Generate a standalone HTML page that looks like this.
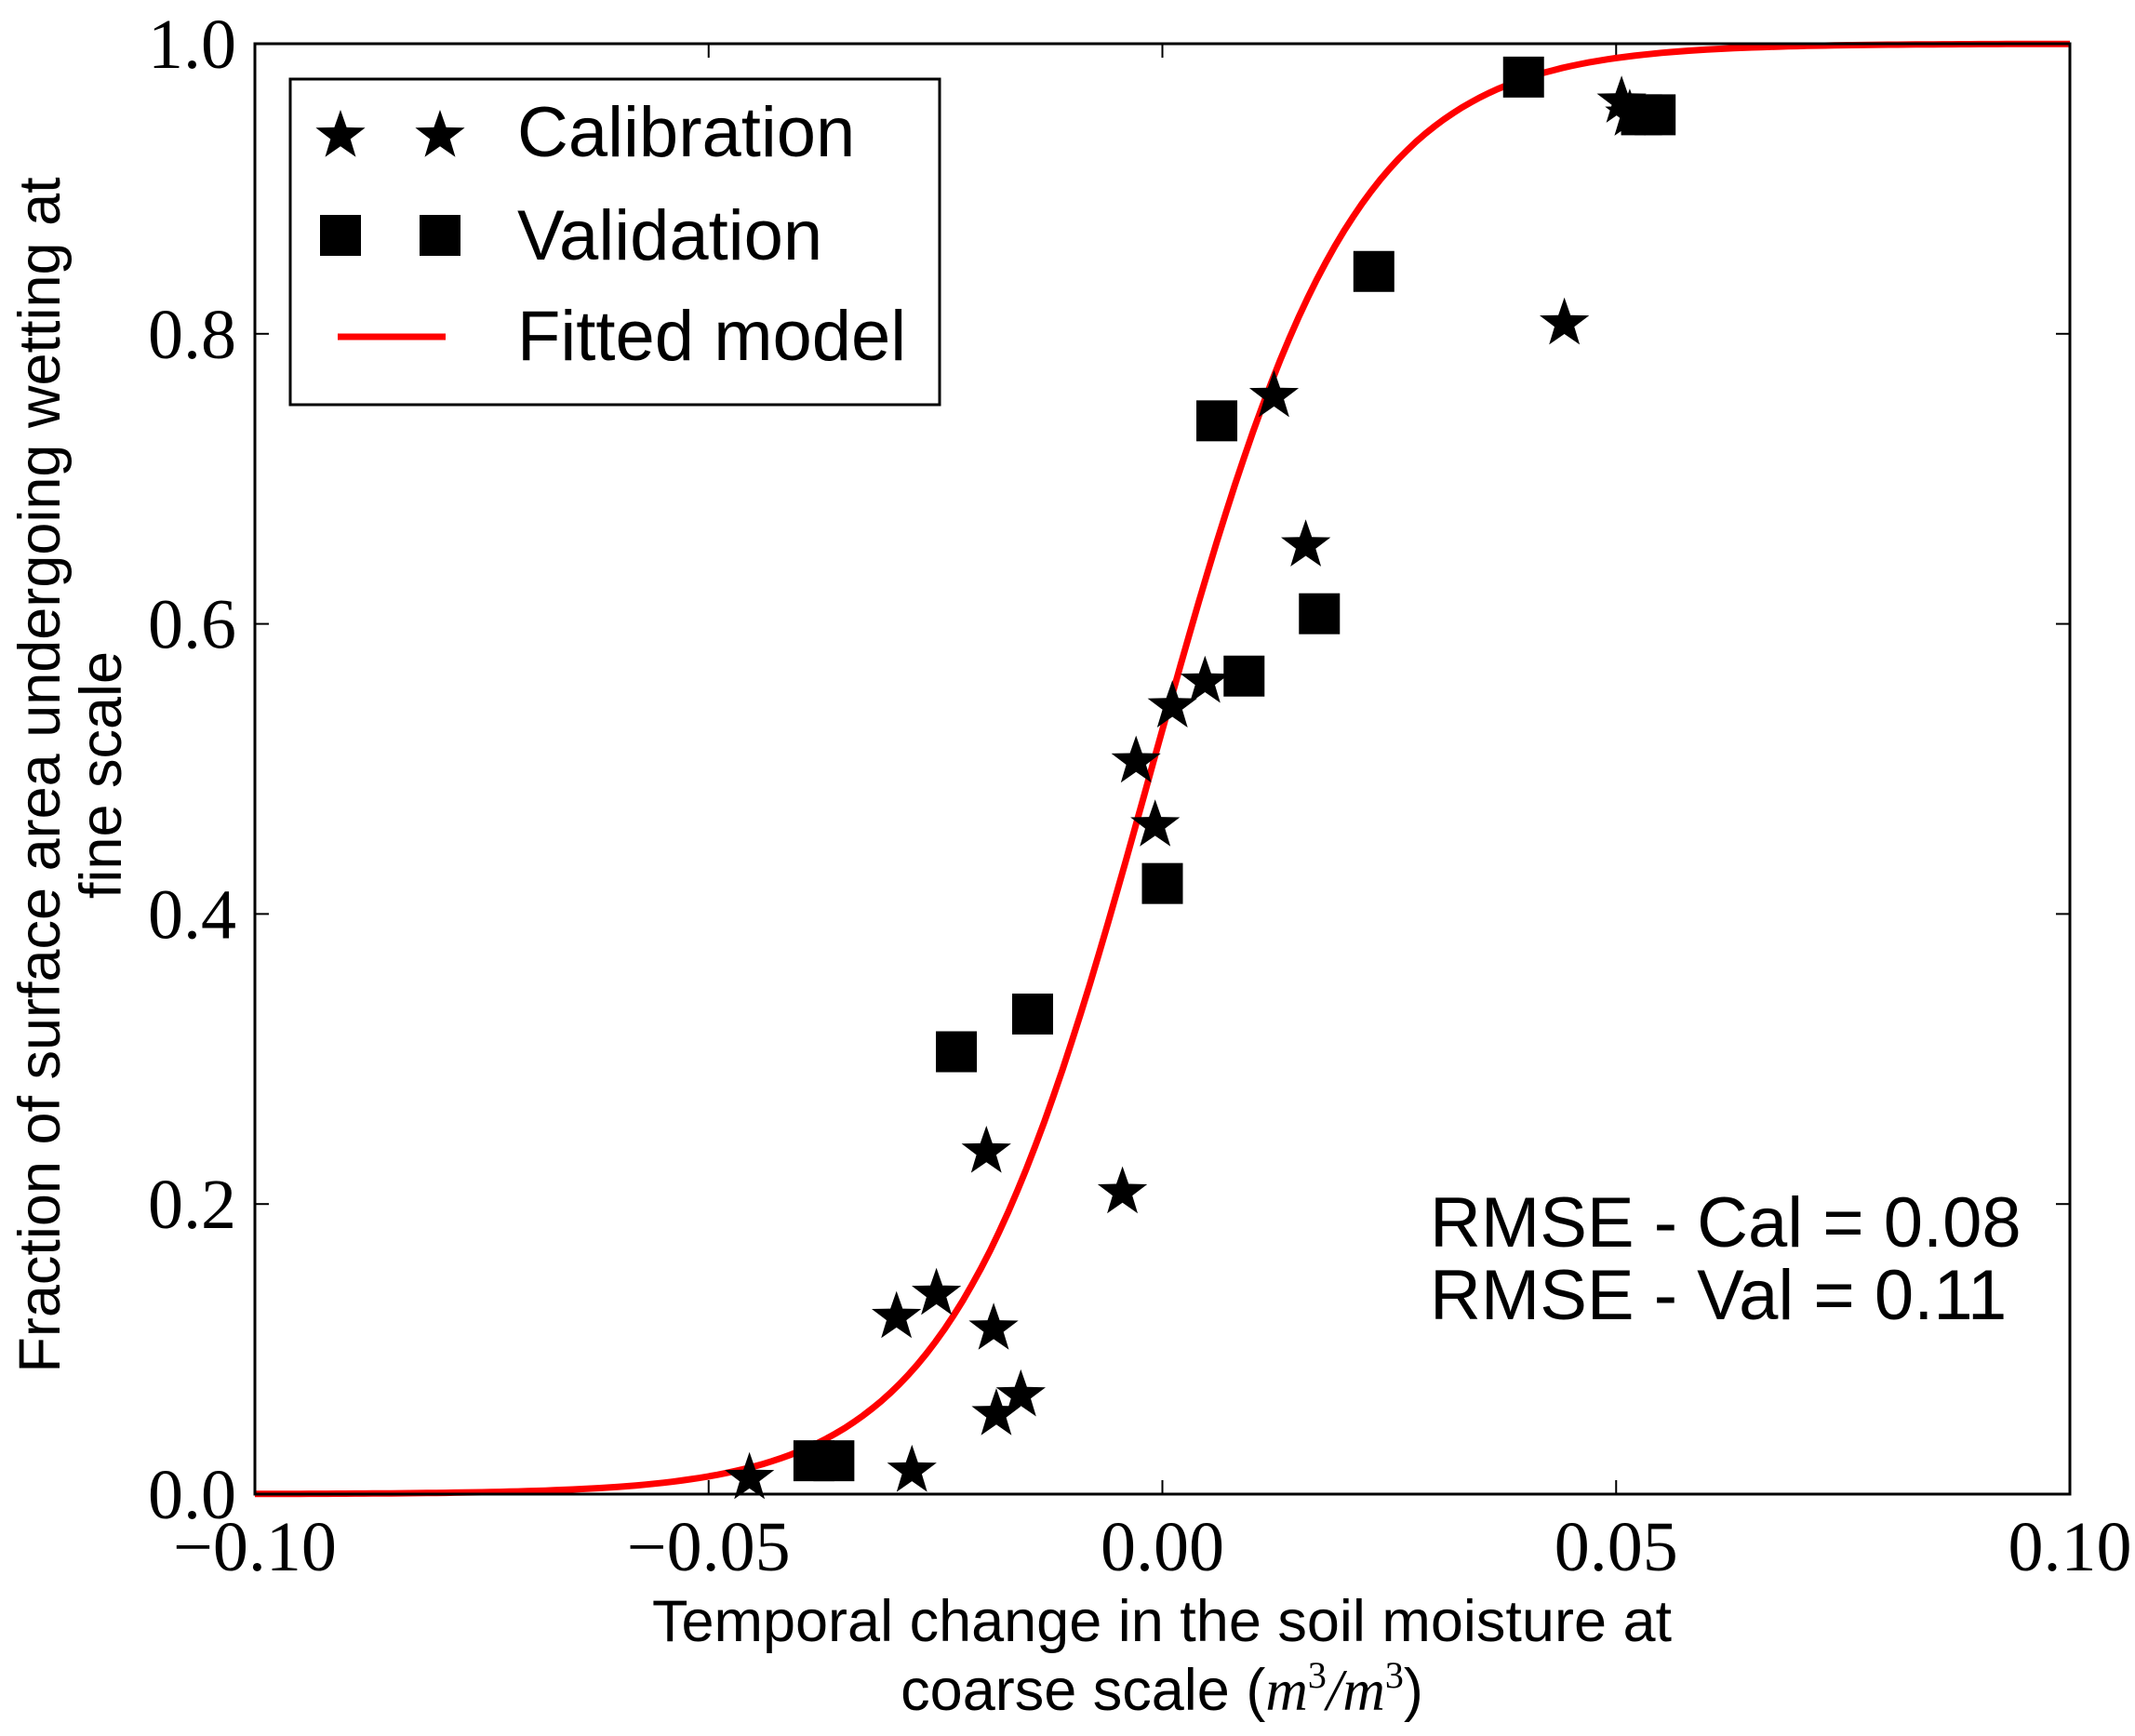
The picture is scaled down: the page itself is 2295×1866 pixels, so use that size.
<!DOCTYPE html>
<html><head><meta charset="utf-8"><style>
html,body{margin:0;padding:0;background:#fff;}
svg{display:block;}
.tk{font-family:"Liberation Serif",serif;font-size:76px;fill:#000;}
.lb{font-family:"Liberation Sans",sans-serif;font-size:63px;fill:#000;}
</style></head><body>
<svg id="chart" width="2295" height="1866" viewBox="0 0 2295 1866" xmlns="http://www.w3.org/2000/svg">
<g id="plot"></g>
</svg>
<script>
const xTicks=[-0.10,-0.05,0.00,0.05,0.10];
const xTickLabels=["\u22120.10","\u22120.05","0.00","0.05","0.10"];
const yTicks=[0,0.2,0.4,0.6,0.8,1.0];
const yTickLabels=["0.0","0.2","0.4","0.6","0.8","1.0"];
const calX=[-0.0455,-0.0276,-0.0293,-0.0249,-0.0194,-0.0186,-0.0183,-0.0156,-0.0044,-0.0029,-0.0008,0.0011,0.0047,0.0123,0.0158,0.0443,0.0506,0.0515];
const calY=[0.013,0.018,0.124,0.140,0.238,0.116,0.057,0.070,0.210,0.507,0.463,0.545,0.562,0.759,0.656,0.809,0.962,0.953];
const valX=[-0.0384,-0.0362,-0.0227,-0.0143,0.0000,0.0060,0.0090,0.0173,0.0233,0.0398,0.0528,0.0543];
const valY=[0.023,0.023,0.305,0.331,0.421,0.740,0.564,0.607,0.843,0.977,0.951,0.951];
const modelParams=[-0.0012,90]; // logistic center, steepness
const L=274,R=2225,T=47,B=1606;
const sx=v=>L+(v+0.1)/0.2*(R-L);
const sy=v=>B-v*(B-T);
const NS="http://www.w3.org/2000/svg";
const g=document.getElementById('plot');
function mk(t,a,txt){const e=document.createElementNS(NS,t);for(const k in a)e.setAttribute(k,a[k]);if(txt!==undefined)e.textContent=txt;g.appendChild(e);return e;}
function starPts(cx,cy,r){let p=[];for(let i=0;i<10;i++){const rr=i%2?r*0.4:r;const a=-Math.PI/2+i*Math.PI/5;p.push((cx+rr*Math.cos(a)).toFixed(1)+","+(cy+rr*Math.sin(a)).toFixed(1));}return p.join(" ");}
xTicks.forEach((v,i)=>{
 const t1=mk('line',{x1:sx(v),x2:sx(v),y1:B,y2:B-15,stroke:'#000','stroke-width':2});
 
 
 const t2=mk('line',{x1:sx(v),x2:sx(v),y1:T,y2:T+15,stroke:'#000','stroke-width':2});
 
 
 const l=mk('text',{x:sx(v),y:1688,'text-anchor':'middle',class:'tk'},xTickLabels[i]);
 
 
});
yTicks.forEach((v,i)=>{
 const t1=mk('line',{x1:L,x2:L+15,y1:sy(v),y2:sy(v),stroke:'#000','stroke-width':2});
 
 
 const t2=mk('line',{x1:R,x2:R-15,y1:sy(v),y2:sy(v),stroke:'#000','stroke-width':2});
 
 
 const l=mk('text',{x:254,y:sy(v)+26,'text-anchor':'end',class:'tk'},yTickLabels[i]);
 
 
});
let d="";
for(let i=0;i<=200;i++){const x=-0.1+i*0.001;const y=1/(1+Math.exp(-modelParams[1]*(x-modelParams[0])));d+=(i?"L":"M")+sx(x).toFixed(1)+","+sy(y).toFixed(1);}
const curve=mk('path',{d:d,fill:'none',stroke:'#ff0000','stroke-width':7});


valX.forEach((v,i)=>{
 const s=mk('rect',{x:sx(v)-22,y:sy(valY[i])-22,width:44,height:44,fill:'#000'});
 
 
});
calX.forEach((v,i)=>{
 const s=mk('polygon',{points:starPts(sx(v),sy(calY[i])+3,28),fill:'#000'});
 
 
});
const fr=mk('rect',{x:L,y:T,width:R-L,height:B-T,fill:'none',stroke:'#000','stroke-width':3});


const lg=mk('rect',{x:312,y:85,width:698,height:350,fill:'#fff',stroke:'#000','stroke-width':3});


[366,473].forEach(x=>{
 const s=mk('polygon',{points:starPts(x,146,28),fill:'#000'});
 
 
 const q=mk('rect',{x:x-22,y:231,width:44,height:44,fill:'#000'});
 
 
});
const ll=mk('line',{x1:363,x2:479,y1:362,y2:362,stroke:'#ff0000','stroke-width':7});


[["Calibration",168],["Validation",279],["Fitted model",387]].forEach(e=>{
 const t=mk('text',{x:556,y:e[1],class:'lb'},e[0]);
 t.setAttribute('style','font-size:76px');
 
 
});
[["RMSE - Cal = 0.08",1340],["RMSE - Val = 0.11",1418]].forEach(e=>{
 const t=mk('text',{x:1537,y:e[1],class:'lb'},e[0]);
 t.setAttribute('style','font-size:76px');
 
 
});
const x1=mk('text',{x:1249,y:1764,'text-anchor':'middle',class:'lb'},"Temporal change in the soil moisture at");


const x2=mk('text',{x:1249,y:1838,'text-anchor':'middle',class:'lb'});


x2.innerHTML='coarse scale (<tspan font-family="Liberation Serif" font-style="italic">m</tspan><tspan font-family="Liberation Serif" font-size="40" dy="-24">3</tspan><tspan font-family="Liberation Serif" font-style="italic" dy="24">/m</tspan><tspan font-family="Liberation Serif" font-size="40" dy="-24">3</tspan><tspan dy="24">)</tspan>';
const y1=mk('text',{x:0,y:0,'text-anchor':'middle',class:'lb',transform:'translate(64,833) rotate(-90)'},"Fraction of surface area undergoing wetting at");


const y2=mk('text',{x:0,y:0,'text-anchor':'middle',class:'lb',transform:'translate(130,833) rotate(-90)'},"fine scale");


</script>
</body></html>
